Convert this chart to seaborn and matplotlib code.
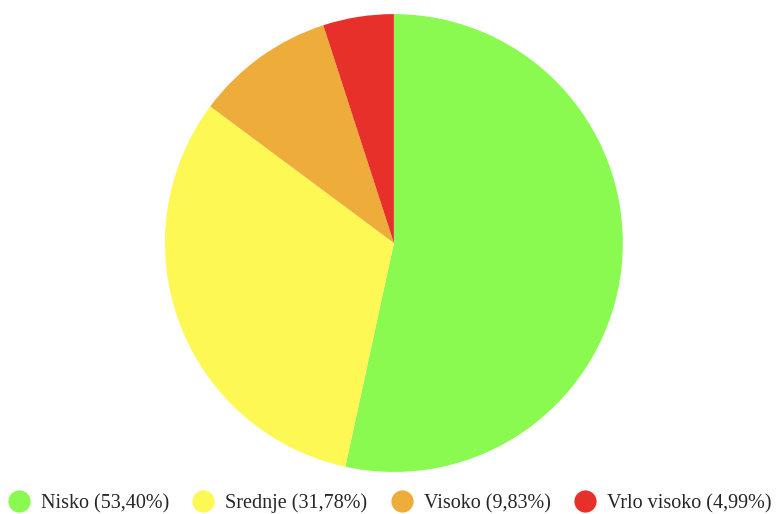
import matplotlib
matplotlib.use("Agg")
import seaborn as sns
from matplotlib import pyplot as plt
from matplotlib.lines import Line2D

# razine rizika i udjeli (%)
labels = ["Nisko", "Srednje", "Visoko", "Vrlo visoko"]
shares = [53.40, 31.78, 9.83, 4.99]
colors = ["#8afa50", "#fdf854", "#eead3a", "#e8302a"]

sns.set_theme(style="white")
plt.rcParams['font.family'] = ['Liberation Serif', 'DejaVu Serif']

fig = plt.figure(figsize=(7.8, 5.14), dpi=100)
ax = fig.add_axes([0.2115, 0.0817, 0.587, 0.891])
ax.pie(shares, colors=sns.color_palette(colors), startangle=90, counterclock=False,
       wedgeprops=dict(linewidth=0))
ax.set_xlim(-1, 1)
ax.set_ylim(-1, 1)
ax.set_aspect('equal')

handles = [Line2D([0], [0], marker='o', linestyle='', markersize=16,
                  markerfacecolor=c, markeredgewidth=0) for c in colors]
legend_labels = ["%s (%s%%)" % (l, ("%.2f" % v).replace('.', ',')) for l, v in zip(labels, shares)]
fig.legend(handles, legend_labels, loc='center', bbox_to_anchor=(0.5, 0.021), ncol=4,
           frameon=False, fontsize=14.5, handletextpad=0.6, columnspacing=1.2,
           handlelength=1.0)

fig.savefig("out.png", dpi=100)
